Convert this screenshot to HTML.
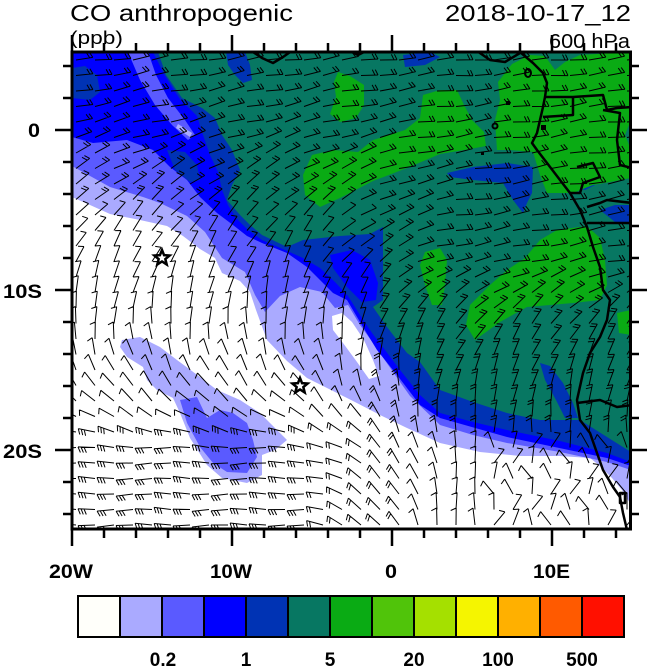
<!DOCTYPE html>
<html><head><meta charset="utf-8">
<style>
html,body{margin:0;padding:0;background:#fff}
svg{display:block}
text{font-family:"Liberation Sans",Arial,sans-serif;fill:#000}
</style></head>
<body>
<svg id="s" width="650" height="667" viewBox="0 0 650 667" xmlns="http://www.w3.org/2000/svg">
<defs><clipPath id="c"><rect x="72" y="52" width="558.5" height="477"/></clipPath></defs>
<rect width="650" height="667" fill="#fff"/>
<g clip-path="url(#c)">
<rect x="72" y="52" width="560" height="478" fill="#fff"/>
<!-- lavender -->
<polygon fill="#aaaaff" points="72,52 631,52 631,505 622,490 612,478 600,466 590,458 560,456 520,456 480,452 440,443 407,428 380,415 353,401 327,388 307,378 287,361 267,340 256,310 250,292 240,281 222,273 215,258 200,249 183,236 167,226 140,220 110,214 90,205 72,197"/>
<polygon fill="#aaaaff" points="122,340 140,337 160,347 177,360 200,377 217,390 240,400 260,413 277,430 287,440 275,450 262,455 262,475 247,483 222,478 207,465 190,438 180,413 173,398 157,390 147,380 143,367 127,357 120,347"/>
<!-- white tongue -->
<polygon fill="#fff" points="332,316 342,313 352,322 364,340 373,360 379,376 369,379 357,362 343,343 333,330"/>
<!-- medium blue -->
<polygon fill="#5a5aff" points="72,52 631,52 631,470 607,462 560,452 507,443 473,435 440,425 410,396 393,372 373,343 360,325 348,305 335,308 322,292 300,287 280,296 265,312 255,295 245,272 222,258 205,232 187,216 160,203 143,197 110,187 72,166"/>
<polygon fill="#5a5aff" points="180,400 197,397 207,418 220,410 233,413 247,423 253,440 257,457 247,473 227,472 213,463 200,447 187,423"/>
<!-- blue -->
<polygon fill="#0000ff" points="72,52 631,52 631,466 607,458 507,437 440,418 420,405 397,375 377,350 363,327 347,300 333,293 320,280 307,267 287,253 262,243 247,236 233,225 217,213 200,197 187,180 170,167 153,150 127,140 93,143 72,137"/>
<polygon fill="#5a5aff" points="128,52 148,52 156,75 168,98 185,120 195,135 188,140 172,125 155,105 140,80"/>
<polygon fill="#aaaaff" points="178,124 192,133 190,137 176,128"/>
<!-- dark blue -->
<polygon fill="#0033b4" points="153,52 631,52 631,462 607,453 560,441 507,430 473,422 440,413 420,395 400,370 385,350 372,333 360,315 348,296 335,282 320,268 303,258 285,250 262,240 248,230 236,218 228,205 222,190 218,172 210,155 203,135 197,116 180,99 165,76"/>
<polygon fill="#0033b4" points="167,150 185,152 197,165 200,180 190,182 175,170"/>
<polygon fill="#0033b4" points="72,68 85,66 97,75 100,92 90,100 72,98"/>
<polygon fill="#0000ff" points="330,255 352,250 370,260 378,283 376,300 362,302 347,287 333,268"/>
<!-- teal -->
<polygon fill="#077762" points="158,52 631,52 631,452 607,437 580,420 540,420 507,413 473,402 440,390 420,362 407,353 387,327 373,307 383,300 383,227 370,234 340,236 303,240 287,247 262,235 250,225 240,215 227,200 232,185 240,170 232,150 222,135 215,118 202,108 182,98 166,75"/>
<!-- dark blue patches -->
<polygon fill="#0033b4" points="226,52 245,52 250,65 252,80 243,83 235,75 228,65"/>
<polygon fill="#0033b4" points="403,55 430,52 440,57 425,65 405,67"/>
<polygon fill="#0033b4" points="447,173 473,167 507,163 533,167 532,193 527,203 523,213 513,200 503,183 473,180 450,177"/>
<polygon fill="#0033b4" points="577,170 590,163 597,165 595,185 585,190 577,188"/>
<polygon fill="#0033b4" points="600,210 615,205 631,205 631,225 615,222"/>
<polygon fill="#0033b4" points="540,363 550,366 563,383 573,403 578,418 565,418 556,400 545,380"/>
<!-- green -->
<polygon fill="#0aab14" points="338,72 350,76 364,85 364,105 356,118 340,122 330,114 336,97 334,82"/>
<polygon fill="#0aab14" points="303,175 312,155 333,150 358,152 373,140 405,130 420,118 423,95 440,90 457,90 464,105 472,120 484,132 486,146 470,149 440,154 407,168 373,181 340,198 320,207 305,195"/>
<polygon fill="#0aab14" points="498,82 512,64 530,55 545,56 555,70 565,62 580,55 631,52 631,120 625,135 631,150 631,178 610,182 593,185 573,193 547,193 540,175 533,152 510,150 497,150 495,120 500,100"/>
<polygon fill="#0aab14" points="425,252 440,248 447,260 445,285 442,305 432,305 425,285 420,265"/>
<polygon fill="#0aab14" points="540,240 557,230 587,226 600,238 605,260 607,285 600,300 573,303 527,307 500,322 475,340 466,325 470,305 490,285 507,270 525,258"/>
<polygon fill="#0aab14" points="617,313 631,310 631,335 619,333"/>
<!-- barbs -->
<path id="barbs" d="" stroke="#000" stroke-width="1" fill="none"/>
<!-- coast & borders -->
<g stroke="#000" stroke-width="2.5" fill="none" stroke-linejoin="round">
<path d="M520,52 L533,63 L543,73 L547,83 L545,97 L543,107 L540,120 L537,133 L532,143 L537,150 L547,163 L560,180 L570,193 L580,210 L587,227 L593,247 L600,267 L603,290 L610,300 L607,320 L600,337 L590,353 L583,373 L577,400 L580,420 L590,433 L597,453 L603,470 L613,487 L620,497 L623,513 L627,530"/>
<path d="M250,50 L262,58 L273,63 L283,57 L293,50"/>
<path d="M350,51 L358,55 L366,51"/>
<path d="M477,51 L490,60 L505,62 L520,53"/>
<path d="M545,97 L573,97 L603,95 L607,110 L617,108 L632,107"/>
<path d="M573,97 L573,115 L543,117"/>
<path d="M603,110 L620,113 L617,140 L620,165 L632,168"/>
<path d="M577,167 L593,163 L600,177 L583,183 L580,193 L570,193"/>
<path d="M587,207 L600,203 L607,200 L632,203"/>
<path d="M587,223 L632,223"/>
<path d="M577,403 L600,400 L617,407 L632,405"/>
<path d="M620,493 L625,493 L625,503 L620,503 Z"/>
<ellipse cx="528" cy="73" rx="3" ry="4" stroke-width="2"/>
<ellipse cx="495" cy="126" rx="2.5" ry="2.5" stroke-width="2"/>
</g>
<rect x="506" y="101" width="4" height="4" fill="#000"/>
<rect x="541" y="125" width="5" height="5" fill="#000"/>
<rect x="481" y="152" width="3" height="3" fill="#000"/>
</g>
<!-- stars -->
<g fill="#fff" stroke="#000" stroke-width="2.5" stroke-linejoin="miter">
<polygon transform="translate(162,258)" points="0,-8 2.06,-2.83 7.61,-2.47 3.33,1.08 4.70,6.47 0,3.5 -4.70,6.47 -3.33,1.08 -7.61,-2.47 -2.06,-2.83"/>
<polygon transform="translate(300,386)" points="0,-8 2.06,-2.83 7.61,-2.47 3.33,1.08 4.70,6.47 0,3.5 -4.70,6.47 -3.33,1.08 -7.61,-2.47 -2.06,-2.83"/>
</g>
<!-- frame -->
<rect x="72" y="52" width="558.5" height="477" fill="none" stroke="#000" stroke-width="3"/>
<g stroke="#000" stroke-width="2.5" fill="none">
<path d="M72 52V35M104 52V43M136 52V43M168 52V43M200 52V43M232 52V35M264 52V43M296 52V43M328 52V43M360 52V43M392 52V35M424 52V43M456 52V43M488 52V43M520 52V43M552 52V35M584 52V43M616 52V43"/>
<path d="M72 529V546M104 529V538M136 529V538M168 529V538M200 529V538M232 529V546M264 529V538M296 529V538M328 529V538M360 529V538M392 529V546M424 529V538M456 529V538M488 529V538M520 529V538M552 529V546M584 529V538M616 529V538"/>
<path d="M72 66H63M72 98H63M72 130H55M72 162H63M72 194H63M72 226H63M72 258H63M72 290H55M72 322H63M72 354H63M72 386H63M72 418H63M72 450H55M72 482H63M72 514H63"/>
<path d="M630 66H639M630 98H639M630 130H647M630 162H639M630 194H639M630 226H639M630 258H639M630 290H647M630 322H639M630 354H639M630 386H639M630 418H639M630 450H647M630 482H639M630 514H639"/>
</g>
<!-- titles -->
<text x="70" y="21" font-size="23" textLength="223" lengthAdjust="spacingAndGlyphs">CO anthropogenic</text>
<text x="445" y="21" font-size="23" textLength="186" lengthAdjust="spacingAndGlyphs">2018-10-17_12</text>
<text x="70" y="44" font-size="18" textLength="53" lengthAdjust="spacingAndGlyphs">(ppb)</text>
<text x="549" y="48" font-size="20" textLength="81" lengthAdjust="spacingAndGlyphs">600 hPa</text>
<!-- tick labels -->
<g font-size="19" font-weight="bold">
<text x="28" y="137" textLength="12" lengthAdjust="spacingAndGlyphs">0</text>
<text x="3" y="298" textLength="39" lengthAdjust="spacingAndGlyphs">10S</text>
<text x="3" y="458" textLength="39" lengthAdjust="spacingAndGlyphs">20S</text>
<text x="49" y="578" textLength="44" lengthAdjust="spacingAndGlyphs">20W</text>
<text x="210" y="578" textLength="42" lengthAdjust="spacingAndGlyphs">10W</text>
<text x="385" y="578" textLength="12" lengthAdjust="spacingAndGlyphs">0</text>
<text x="533" y="578" textLength="37" lengthAdjust="spacingAndGlyphs">10E</text>
</g>
<!-- colorbar -->
<g stroke="none">
<rect x="78" y="596" width="42" height="41" fill="#fffffa"/>
<rect x="120" y="596" width="42" height="41" fill="#aaaaff"/>
<rect x="162" y="596" width="42" height="41" fill="#5a5aff"/>
<rect x="204" y="596" width="42" height="41" fill="#0000ff"/>
<rect x="246" y="596" width="42" height="41" fill="#0033b4"/>
<rect x="288" y="596" width="42" height="41" fill="#077762"/>
<rect x="330" y="596" width="42" height="41" fill="#0aab14"/>
<rect x="372" y="596" width="42" height="41" fill="#50c40a"/>
<rect x="414" y="596" width="42" height="41" fill="#a5e000"/>
<rect x="456" y="596" width="42" height="41" fill="#f5f500"/>
<rect x="498" y="596" width="42" height="41" fill="#ffb000"/>
<rect x="540" y="596" width="42" height="41" fill="#ff5a00"/>
<rect x="582" y="596" width="42" height="41" fill="#ff1000"/>
</g>
<g stroke="#000" stroke-width="2" fill="none">
<rect x="78" y="596" width="546" height="41"/>
<path d="M120 596V637M162 596V637M204 596V637M246 596V637M288 596V637M330 596V637M372 596V637M414 596V637M456 596V637M498 596V637M540 596V637M582 596V637"/>
</g>
<g font-size="19" font-weight="bold" text-anchor="middle">
<text x="163" y="666">0.2</text>
<text x="246" y="666">1</text>
<text x="330" y="666">5</text>
<text x="414" y="666">20</text>
<text x="498" y="666">100</text>
<text x="582" y="666">500</text>
</g>
</svg>
<script>
(function(){
function interp(xs,ys,v){
  if(v<=xs[0])return ys[0];
  for(var k=1;k<xs.length;k++){ if(v<=xs[k]){var t=(v-xs[k-1])/(xs[k]-xs[k-1]);return ys[k-1]+t*(ys[k]-ys[k-1]);} }
  return ys[ys.length-1];
}
var d=[];
for(var j=0;j<31;j++){
  for(var i=0;i<30;i++){
    var x=76+19*i, y=60+15.5*j;
    var tl=interp([52,130,250,330,400,450,530],[-8,-15,-60,-90,-135,-180,-180],y);
    var tr=interp([52,260,320,400,460,530],[-6,-10,-50,-80,-95,-90],y);
    var w=(x-300)/150; if(w<0)w=0; if(w>1)w=1;
    var th=tl*(1-w)+tr*w;
    th+=7*Math.sin(i*1.3+j*0.7);
    if(y>440&&x>480){ th=-90+40*Math.sin(i*0.9+j*1.7); }
    var n=2;
    if(y>200&&y<430&&x<380)n=1;
    if(y>430&&x<320)n=3;
    if(y>440&&x>400)n=1;
    var L=17, a=th*Math.PI/180;
    var dx=Math.cos(a), dy=Math.sin(a);
    var ex=x+L*dx, ey=y+L*dy;
    d.push('M'+x.toFixed(1)+' '+y.toFixed(1)+'L'+ex.toFixed(1)+' '+ey.toFixed(1));
    var fa=a-115*Math.PI/180, fx=Math.cos(fa), fy=Math.sin(fa);
    for(var k=0;k<n;k++){
      var bx=ex-k*3*dx, by=ey-k*3*dy;
      d.push('M'+bx.toFixed(1)+' '+by.toFixed(1)+'L'+(bx+6*fx).toFixed(1)+' '+(by+6*fy).toFixed(1));
    }
  }
}
document.getElementById('barbs').setAttribute('d',d.join(''));
})();
</script>
</body></html>
